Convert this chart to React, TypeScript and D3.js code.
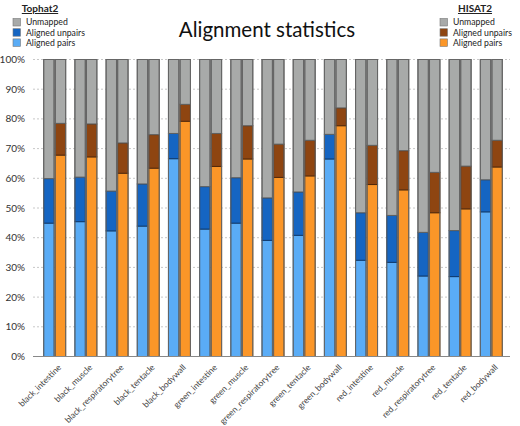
import React from "react";
import * as d3 from "d3";

const categories = [
  "black_intestine", "black_muscle", "black_respiratorytree", "black_tentacle", "black_bodywall",
  "green_intestine", "green_muscle", "green_respiratorytree", "green_tentacle", "green_bodywall",
  "red_intestine", "red_muscle", "red_respiratorytree", "red_tentacle", "red_bodywall",
];

const tophatPairs = [44.9, 45.4, 42.3, 43.9, 66.6, 42.9, 44.9, 39.1, 40.8, 66.5, 32.4, 31.7, 27.1, 26.9, 48.7];
const tophatUnpairs = [15.0, 15.0, 13.4, 14.2, 8.5, 14.3, 15.3, 14.3, 14.6, 8.3, 16.0, 15.8, 14.7, 15.5, 10.8];
const tophatUnmapped = [40.1, 39.6, 44.3, 41.9, 24.9, 42.8, 39.8, 46.6, 44.6, 25.2, 51.6, 52.5, 58.2, 57.6, 40.5];

const hisatPairs = [67.8, 67.2, 61.7, 63.4, 79.2, 64.0, 66.5, 60.3, 60.8, 77.7, 57.9, 56.1, 48.4, 49.7, 63.8];
const hisatUnpairs = [10.7, 11.1, 10.2, 11.3, 5.7, 11.1, 11.2, 11.2, 12.0, 6.0, 13.2, 13.2, 13.6, 14.4, 9.0];
const hisatUnmapped = [21.5, 21.7, 28.1, 25.3, 15.1, 24.9, 22.3, 28.5, 27.2, 16.3, 28.9, 30.7, 38.0, 35.9, 27.2];

const yTicks = [0, 10, 20, 30, 40, 50, 60, 70, 80, 90, 100];
const segmentKeys = ["pairs", "unpairs", "unmapped"];
const legendLabels = ["Unmapped", "Aligned unpairs", "Aligned pairs"];

const tools = [
  { name: "Tophat2", pairs: tophatPairs, unpairs: tophatUnpairs, unmapped: tophatUnmapped,
    colors: { pairs: "#5aacf6", unpairs: "#1565c2", unmapped: "#a8aaa9" } },
  { name: "HISAT2", pairs: hisatPairs, unpairs: hisatUnpairs, unmapped: hisatUnmapped,
    colors: { pairs: "#fb9628", unpairs: "#8e4511", unmapped: "#a8aaa9" } },
];

const FONT = "Lato, 'Open Sans', sans-serif";

export default function App() {
  const W = 520, H = 426;
  const y = d3.scaleLinear().domain([0, 100]).range([356.5, 59.5]);
  const x = d3.scaleBand<string>().domain(categories).range([33, 513]).paddingInner(0.295).paddingOuter(0.343);
  const inner = d3.scaleBand<string>().domain(tools.map(t => t.name)).range([0, x.bandwidth()]).paddingInner(0.1);

  const stacks = tools.map(t => {
    const rows = categories.map((c, i) => ({ cat: c, pairs: t.pairs[i], unpairs: t.unpairs[i], unmapped: t.unmapped[i] }));
    return d3.stack<any>().keys(segmentKeys)(rows);
  });

  const legends = [
    { t: tools[0], cx: 40, sx: 13, tx: 26 },
    { t: tools[1], cx: 475, sx: 440, tx: 453 },
  ];

  return (
    <svg width={W} height={H} style={{ position: "absolute", left: 0, top: 0, background: "#fff" }}>
      {/* title */}
      <text x={267} y={37} textAnchor="middle" fontFamily={FONT} fontSize={20.5} fill="#111">Alignment statistics</text>

      {/* grid */}
      {yTicks.map(t => (
        <g key={t}>
          {t > 0 && <line x1={33} x2={510} y1={y(t)} y2={y(t)} stroke="#c8c8c8" strokeWidth={1} strokeDasharray="2,2" />}
          <text x={25} y={y(t)} dy="0.35em" textAnchor="end" fontFamily={FONT} fontSize={10} fill="#333">{t}%</text>
        </g>
      ))}

      {/* bars */}
      {tools.map((t, ti) => (
        <g key={t.name}>
          {stacks[ti].map(series => (
            <g key={series.key}>
              {series.map((d, i) => {
                const bx = (x(categories[i]) as number) + (inner(t.name) as number);
                const fill = (t.colors as any)[series.key];
                return (
                  <rect key={i} x={bx} width={inner.bandwidth()} y={y(d[1])} height={y(d[0]) - y(d[1])}
                    fill={fill} stroke={d3.color(fill)!.darker(1.6).toString()} strokeWidth={1} />
                );
              })}
            </g>
          ))}
          {categories.map((c) => {
            const bx = (x(c) as number) + (inner(t.name) as number);
            return <rect key={c} x={bx} width={inner.bandwidth()} y={y(100)} height={y(0) - y(100)} fill="none" stroke="#666" strokeWidth={1} />;
          })}
        </g>
      ))}

      {/* x axis */}
      <line x1={33} x2={510} y1={y(0)} y2={y(0)} stroke="#888" strokeWidth={1} />
      {categories.map(c => {
        const cx = (x(c) as number) + x.bandwidth() / 2 + 7;
        return (
          <text key={c} transform={`translate(${cx},${368}) rotate(-45)`} textAnchor="end" fontFamily={FONT} fontSize={8.5} fill="#444">{c}</text>
        );
      })}

      {/* legends */}
      {legends.map(({ t, cx, sx, tx }) => {
        const cols = [t.colors.unmapped, t.colors.unpairs, t.colors.pairs];
        return (
          <g key={t.name}>
            <text x={cx} y={12} textAnchor="middle" fontFamily={FONT} fontSize={10} fontWeight="bold" fill="#222" textDecoration="underline">{t.name}</text>
            {legendLabels.map((l, i) => (
              <g key={l}>
                <rect x={sx} y={18.5 + i * 10.2} width={7.5} height={7.5} fill={cols[i]} stroke="#777" strokeWidth={0.6} />
                <text x={tx} y={22.3 + i * 10.2} dy="0.35em" fontFamily={FONT} fontSize={8.7} fill="#222">{l}</text>
              </g>
            ))}
          </g>
        );
      })}
    </svg>
  );
}
